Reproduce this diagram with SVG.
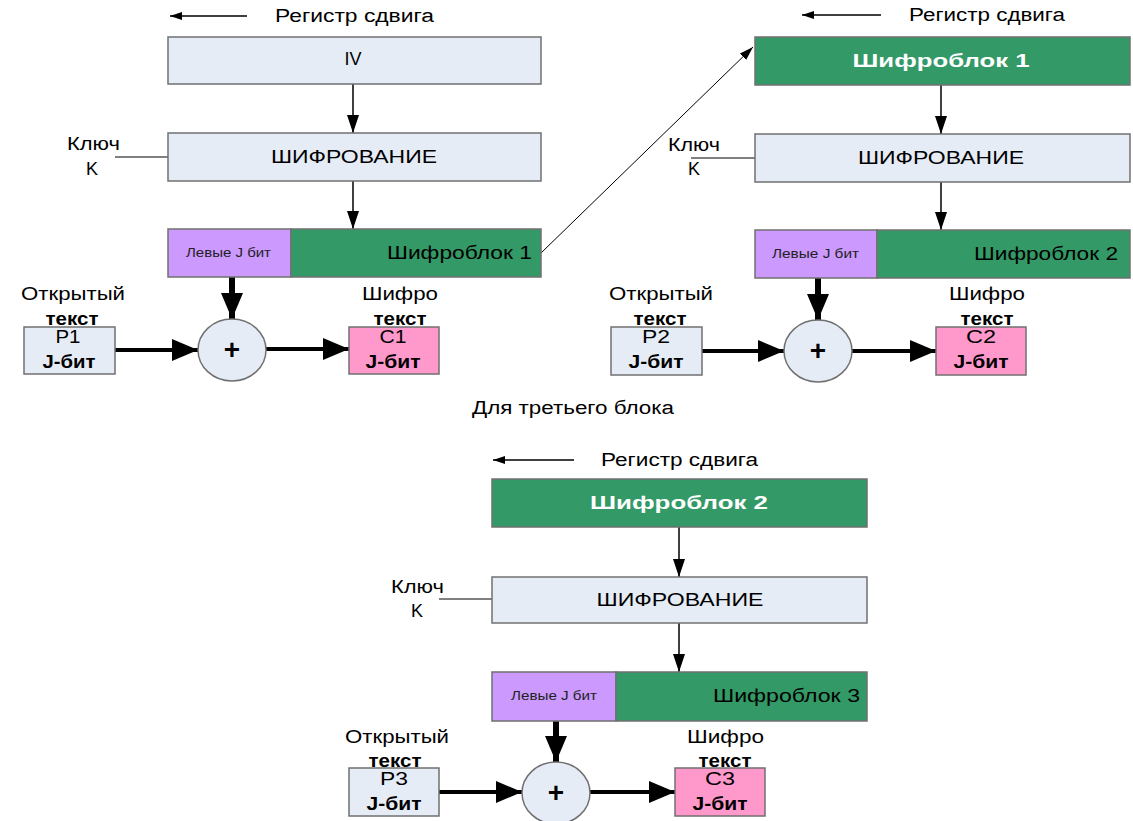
<svg xmlns="http://www.w3.org/2000/svg" width="1133" height="821" viewBox="0 0 1133 821">
<style>
.bg{fill:#fff}
.box{fill:#E6ECF6;stroke:#707070;stroke-width:1.5}
.grn{fill:#339966;stroke:#707070;stroke-width:1.5}
.pur{fill:#CC99FF;stroke:#707070;stroke-width:1.5}
.pnk{fill:#FF99CC;stroke:#707070;stroke-width:1.5}
.t{font-family:"Liberation Sans",Arial,sans-serif;font-size:18px;fill:#000}
.s{font-size:12px;fill:#222}
.b{font-weight:bold}
.w{font-weight:bold;fill:#fff;font-size:19px}
.c{text-anchor:middle}
.plus{font-weight:bold;font-size:28px}
.thin{stroke:#000;stroke-width:1.5;fill:none}
.hair{stroke:#000;stroke-width:1;fill:none}
.thick{stroke:#000;stroke-width:4;fill:none}
.thickv{stroke:#000;stroke-width:6;fill:none}
</style>
<defs>
<marker id="ah" markerUnits="userSpaceOnUse" viewBox="0 0 18 12" markerWidth="18" markerHeight="12" refX="18" refY="6" orient="auto"><path d="M0,0 L18,6 L0,12 z" fill="#000"/></marker>
<marker id="big" markerUnits="userSpaceOnUse" viewBox="0 0 26 22" markerWidth="26" markerHeight="22" refX="26" refY="11" orient="auto"><path d="M0,0 L26,11 L0,22 z" fill="#000"/></marker>
<marker id="sm" markerUnits="userSpaceOnUse" viewBox="0 0 12 8" markerWidth="12" markerHeight="8" refX="12" refY="4" orient="auto"><path d="M0,0 L12,4 L0,8 z" fill="#000"/></marker>
<marker id="dg" markerUnits="userSpaceOnUse" viewBox="0 0 14 9" markerWidth="14" markerHeight="9" refX="14" refY="4.5" orient="auto"><path d="M0,0 L14,4.5 L0,9 z" fill="#000"/></marker>
</defs>
<rect class="bg" x="0" y="0" width="1133" height="821"/>

<g id="connectors">
  <line class="thin" x1="247" y1="16" x2="170" y2="16" marker-end="url(#sm)"/>
  <line class="thin" x1="353" y1="84" x2="353" y2="133" marker-end="url(#ah)"/>
  <line class="thin" x1="353" y1="181" x2="353" y2="229" marker-end="url(#ah)"/>
  <line class="hair" x1="115" y1="157" x2="168" y2="157"/>
  <line class="thickv" x1="232" y1="277" x2="232" y2="319" marker-end="url(#big)"/>
  <line class="thick" x1="115" y1="350" x2="198" y2="350" marker-end="url(#big)"/>
  <line class="thick" x1="266" y1="349" x2="349" y2="349" marker-end="url(#big)"/>
  <line class="hair" x1="541" y1="253" x2="753" y2="47" marker-end="url(#dg)"/>

  <line class="thin" x1="881" y1="15" x2="802" y2="15" marker-end="url(#sm)"/>
  <line class="thin" x1="941" y1="85" x2="941" y2="134" marker-end="url(#ah)"/>
  <line class="thin" x1="941" y1="182" x2="941" y2="230" marker-end="url(#ah)"/>
  <line class="hair" x1="691" y1="158" x2="755" y2="158"/>
  <line class="thickv" x1="818" y1="278" x2="818" y2="320" marker-end="url(#big)"/>
  <line class="thick" x1="702" y1="351" x2="784" y2="351" marker-end="url(#big)"/>
  <line class="thick" x1="852" y1="351" x2="936" y2="351" marker-end="url(#big)"/>

  <line class="thin" x1="574" y1="460" x2="493" y2="460" marker-end="url(#sm)"/>
  <line class="thin" x1="679" y1="527" x2="679" y2="577" marker-end="url(#ah)"/>
  <line class="thin" x1="679" y1="623" x2="679" y2="672" marker-end="url(#ah)"/>
  <line class="hair" x1="439" y1="599" x2="492" y2="599"/>
  <line class="thickv" x1="556" y1="721" x2="556" y2="762" marker-end="url(#big)"/>
  <line class="thick" x1="439" y1="792" x2="522" y2="792" marker-end="url(#big)"/>
  <line class="thick" x1="590" y1="792" x2="675" y2="792" marker-end="url(#big)"/>
</g>

<!-- Panel 1 -->
<text class="t" x="275" y="22" textLength="159" lengthAdjust="spacingAndGlyphs">Регистр сдвига</text>
<g id="iv"><rect class="box" x="168" y="37" width="373" height="47"/><text class="t c" x="353" y="65" textLength="17" lengthAdjust="spacingAndGlyphs">IV</text></g>
<g id="enc1"><rect class="box" x="168" y="133" width="373" height="48"/><text class="t c" x="354" y="163" textLength="166" lengthAdjust="spacingAndGlyphs">ШИФРОВАНИЕ</text></g>
<g id="key1"><text class="t" x="67" y="150" textLength="53" lengthAdjust="spacingAndGlyphs">Ключ</text><text class="t" x="86" y="175">K</text></g>
<g id="left1"><rect class="pur" x="168" y="229" width="123" height="48"/><text class="t s" x="186" y="257" textLength="85" lengthAdjust="spacingAndGlyphs">Левые J бит</text></g>
<g id="cb1"><rect class="grn" x="291" y="229" width="250" height="48"/><text class="t" x="387" y="259" textLength="145" lengthAdjust="spacingAndGlyphs">Шифроблок 1</text></g>
<g id="xor1"><ellipse class="box" cx="232" cy="350" rx="34" ry="31"/><text class="t c plus" x="232" y="359">+</text></g>
<g id="p1lab"><text class="t" x="21" y="300" textLength="104" lengthAdjust="spacingAndGlyphs">Открытый</text><text class="t b c" x="72" y="325" textLength="53" lengthAdjust="spacingAndGlyphs">текст</text></g>
<g id="p1"><rect class="box" x="24" y="327" width="91" height="47"/><text class="t c" x="68" y="343" textLength="25" lengthAdjust="spacingAndGlyphs">P1</text><text class="t c b" x="69" y="368" textLength="53" lengthAdjust="spacingAndGlyphs">J-бит</text></g>
<g id="c1lab"><text class="t" x="362" y="300" textLength="76" lengthAdjust="spacingAndGlyphs">Шифро</text><text class="t b c" x="400" y="325" textLength="53" lengthAdjust="spacingAndGlyphs">текст</text></g>
<g id="c1"><rect class="pnk" x="349" y="327" width="90" height="47"/><text class="t c" x="393" y="343" textLength="27" lengthAdjust="spacingAndGlyphs">C1</text><text class="t c b" x="393" y="368" textLength="55" lengthAdjust="spacingAndGlyphs">J-бит</text></g>

<!-- Panel 2 -->
<text class="t" x="909" y="21" textLength="156" lengthAdjust="spacingAndGlyphs">Регистр сдвига</text>
<g id="reg2"><rect class="grn" x="755" y="37" width="375" height="48"/><text class="t w c" x="941" y="67" textLength="177" lengthAdjust="spacingAndGlyphs">Шифроблок 1</text></g>
<g id="enc2"><rect class="box" x="755" y="134" width="375" height="48"/><text class="t c" x="941" y="164" textLength="166" lengthAdjust="spacingAndGlyphs">ШИФРОВАНИЕ</text></g>
<g id="key2"><text class="t" x="668" y="151" textLength="52" lengthAdjust="spacingAndGlyphs">Ключ</text><text class="t" x="688" y="175">K</text></g>
<g id="left2"><rect class="pur" x="755" y="230" width="122" height="48"/><text class="t s" x="772" y="258" textLength="87" lengthAdjust="spacingAndGlyphs">Левые J бит</text></g>
<g id="cb2"><rect class="grn" x="877" y="230" width="253" height="48"/><text class="t" x="974" y="260" textLength="144" lengthAdjust="spacingAndGlyphs">Шифроблок 2</text></g>
<g id="xor2"><ellipse class="box" cx="818" cy="351" rx="34" ry="31"/><text class="t c plus" x="818" y="360">+</text></g>
<g id="p2lab"><text class="t" x="609" y="300" textLength="104" lengthAdjust="spacingAndGlyphs">Открытый</text><text class="t b c" x="660" y="325" textLength="53" lengthAdjust="spacingAndGlyphs">текст</text></g>
<g id="p2"><rect class="box" x="611" y="327" width="91" height="48"/><text class="t c" x="656" y="343" textLength="28" lengthAdjust="spacingAndGlyphs">P2</text><text class="t c b" x="656" y="368" textLength="55" lengthAdjust="spacingAndGlyphs">J-бит</text></g>
<g id="c2lab"><text class="t" x="949" y="300" textLength="76" lengthAdjust="spacingAndGlyphs">Шифро</text><text class="t b c" x="987" y="325" textLength="53" lengthAdjust="spacingAndGlyphs">текст</text></g>
<g id="c2"><rect class="pnk" x="936" y="327" width="90" height="48"/><text class="t c" x="981" y="343" textLength="30" lengthAdjust="spacingAndGlyphs">C2</text><text class="t c b" x="981" y="368" textLength="55" lengthAdjust="spacingAndGlyphs">J-бит</text></g>

<!-- Panel 3 -->
<text class="t" x="472" y="414" textLength="202" lengthAdjust="spacingAndGlyphs">Для третьего блока</text>
<text class="t" x="601" y="466" textLength="157" lengthAdjust="spacingAndGlyphs">Регистр сдвига</text>
<g id="reg3"><rect class="grn" x="492" y="479" width="375" height="48"/><text class="t w c" x="679" y="509" textLength="178" lengthAdjust="spacingAndGlyphs">Шифроблок 2</text></g>
<g id="enc3"><rect class="box" x="492" y="577" width="375" height="46"/><text class="t c" x="680" y="606" textLength="167" lengthAdjust="spacingAndGlyphs">ШИФРОВАНИЕ</text></g>
<g id="key3"><text class="t" x="391" y="593" textLength="53" lengthAdjust="spacingAndGlyphs">Ключ</text><text class="t" x="411" y="617">K</text></g>
<g id="left3"><rect class="pur" x="492" y="672" width="124" height="49"/><text class="t s" x="511" y="700" textLength="86" lengthAdjust="spacingAndGlyphs">Левые J бит</text></g>
<g id="cb3"><rect class="grn" x="616" y="672" width="251" height="49"/><text class="t" x="713" y="702" textLength="147" lengthAdjust="spacingAndGlyphs">Шифроблок 3</text></g>
<g id="xor3"><ellipse class="box" cx="556" cy="793" rx="34" ry="31"/><text class="t c plus" x="556" y="802">+</text></g>
<g id="p3lab"><text class="t" x="345" y="743" textLength="104" lengthAdjust="spacingAndGlyphs">Открытый</text><text class="t b c" x="395" y="767" textLength="53" lengthAdjust="spacingAndGlyphs">текст</text></g>
<g id="p3"><rect class="box" x="349" y="768" width="90" height="48"/><text class="t c" x="394" y="785" textLength="28" lengthAdjust="spacingAndGlyphs">P3</text><text class="t c b" x="394" y="810" textLength="55" lengthAdjust="spacingAndGlyphs">J-бит</text></g>
<g id="c3lab"><text class="t" x="687" y="743" textLength="77" lengthAdjust="spacingAndGlyphs">Шифро</text><text class="t b c" x="725" y="767" textLength="53" lengthAdjust="spacingAndGlyphs">текст</text></g>
<g id="c3"><rect class="pnk" x="675" y="768" width="90" height="48"/><text class="t c" x="720" y="785" textLength="30" lengthAdjust="spacingAndGlyphs">C3</text><text class="t c b" x="720" y="810" textLength="55" lengthAdjust="spacingAndGlyphs">J-бит</text></g>
</svg>
